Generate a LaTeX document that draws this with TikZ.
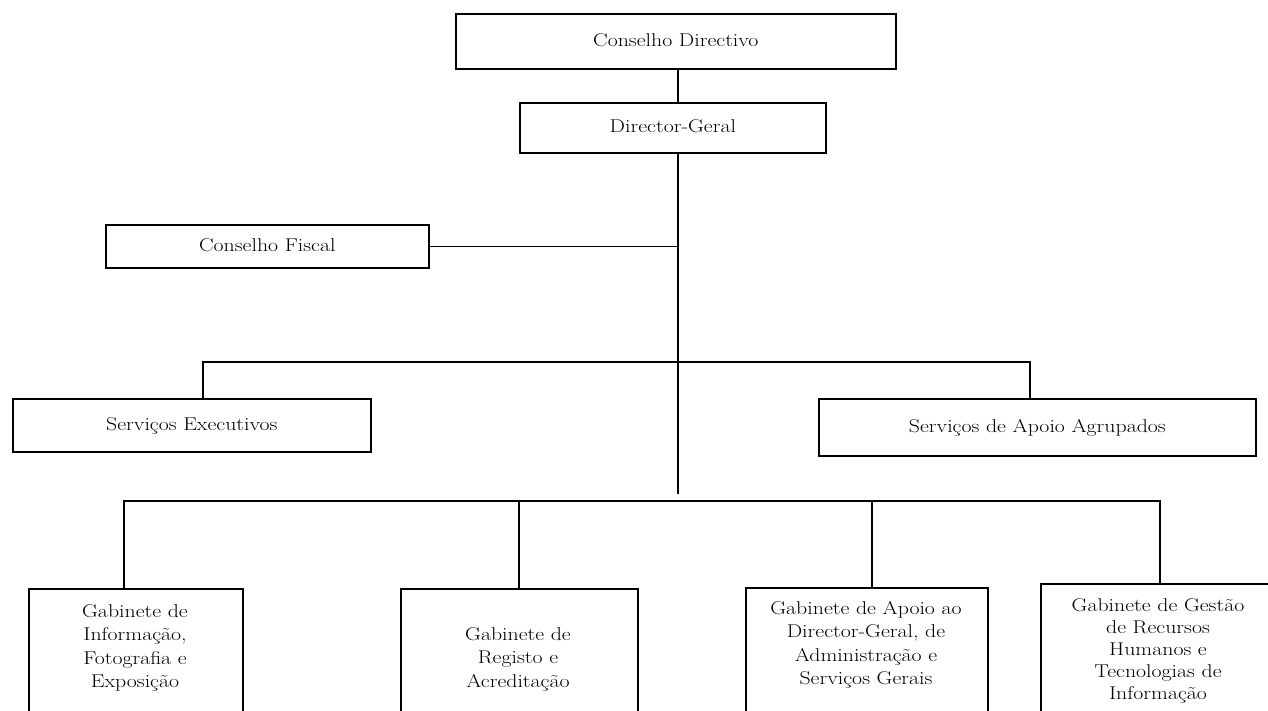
\documentclass[tikz,border=0pt]{standalone}
\usepackage{fontspec}
\usepackage{graphicx}
\newcommand{\tx}[1]{\scalebox{1.18}[1]{\begin{tabular}{@{}c@{}}#1\end{tabular}}}
\begin{document}
\begin{tikzpicture}[x=1pt,y=-1pt,
  box/.style={draw, line width=1.7pt, inner sep=0pt, anchor=north west, font=\fontsize{18.5}{23.5}\selectfont},
  conn/.style={line width=1.1pt},
  lbl/.style={inner sep=0pt, font=\fontsize{18.5}{23.5}\selectfont}]
\useasboundingbox (0,0) rectangle (1268,711);
\clip (0,0) rectangle (1268,711);
% boxes
\node[box, minimum width=440pt, minimum height=55pt] (cd) at (455,13) {\tx{Conselho Directivo}};
\node[box, minimum width=306pt, minimum height=50pt] (dg) at (519,102) {\tx{Director-Geral}};
\node[box, minimum width=323pt, minimum height=43pt] (cf) at (105,224) {\tx{Conselho Fiscal}};
\node[box, minimum width=358pt, minimum height=53pt] (se) at (12,398) {\tx{Serviços Executivos}};
\node[box, minimum width=437pt, minimum height=57pt] (saa) at (818,398) {\tx{Serviços de Apoio Agrupados}};
\node[box, minimum width=214pt, minimum height=160pt] (g1) at (28,588) {};
\node[box, minimum width=237pt, minimum height=160pt] (g2) at (400,588) {};
\node[box, minimum width=242pt, minimum height=160pt] (g3) at (745,587) {};
\node[box, minimum width=240pt, minimum height=160pt] (g4) at (1040,583) {};
% texts in the lower boxes
\node[lbl] (g1t) at (135,648) {\tx{Gabinete de\\Informação,\\Fotografia e\\Exposição}};
\node[lbl] (g2t) at (518,659) {\tx{Gabinete de\\Registo e\\Acreditação}};
\node[lbl] (g3t) at (866,645) {\tx{Gabinete de Apoio ao\\Director-Geral, de\\Administração e\\Serviços Gerais}};
\node[lbl, font=\fontsize{18.5}{22}\selectfont] (g4t) at (1158,651) {\tx{Gabinete de Gestão\\de Recursos\\Humanos e\\Tecnologias de\\Informação}};
% coordinates
\coordinate (spine) at (678,0);
\coordinate (spineend) at (678,494);
\coordinate (seD) at (203,362);
\coordinate (saaD) at (1030,362);
\coordinate (g1d) at (124,501);
\coordinate (g2d) at (519,501);
\coordinate (g3d) at (872,501);
\coordinate (g4d) at (1160,501);
% connectors
\draw[conn] (cd.south -| spine) -- (dg.north -| spine);
\draw[line width=2.3pt] (dg.south -| spine) -- (spineend);
\draw[conn] (cf.east) -- (cf.east -| spine);
\draw[conn] (se.north -| seD) -- (seD) -- (saaD) -- (saa.north -| saaD);
\draw[conn] (g1.north -| g1d) -- (g1d) -- (g4d) -- (g4.north -| g4d);
\draw[conn] (g2d) -- (g2.north -| g2d);
\draw[conn] (g3d) -- (g3.north -| g3d);
\end{tikzpicture}
\end{document}
